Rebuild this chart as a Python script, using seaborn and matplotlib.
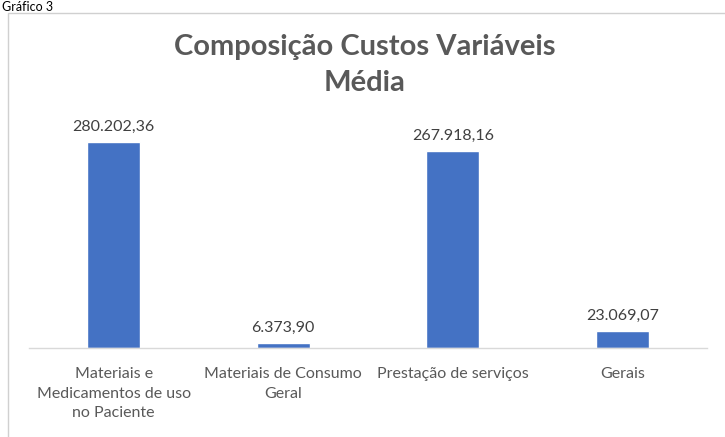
import matplotlib
matplotlib.use("Agg")
import matplotlib.pyplot as plt
import seaborn as sns
import pandas as pd
from matplotlib.patches import Rectangle

# dados do gráfico
categorias = ["Materiais e\nMedicamentos de uso\nno Paciente",
              "Materiais de Consumo\nGeral",
              "Prestação de serviços",
              "Gerais"]
valores = [280202.36, 6373.90, 267918.16, 23069.07]
rotulos = ["280.202,36", "6.373,90", "267.918,16", "23.069,07"]

df = pd.DataFrame({"categoria": categorias, "valor": valores})

sns.set_theme(style="white")
plt.rcParams["font.family"] = ["Lato", "DejaVu Sans"]

fig = plt.figure(figsize=(7.25, 4.37), dpi=100)
W, H = 725, 437

# moldura do gráfico
fig.patches.append(Rectangle((8 / W, -0.1), 1.0, (437 - 13) / H + 0.1,
                             transform=fig.transFigure, fill=False,
                             edgecolor="#d0d0d0", linewidth=1.0))
fig.text(2 / W, 1 - 11 / H, "Gráfico 3", fontsize=9, color="#000000",
         va="baseline", ha="left")

ax = fig.add_axes([29 / W, (H - 348) / H, (707 - 29) / W, 220.5 / H])
sns.barplot(data=df, x="categoria", y="valor", color="#4472C4",
            width=0.31, saturation=1, ax=ax)

ax.set_xlim(-0.5, 3.5)
ax.set_ylim(0, 300000)
ax.set_yticks([])
ax.set_xlabel("")
ax.set_ylabel("")
for s in ["top", "right", "left"]:
    ax.spines[s].set_visible(False)
ax.spines["bottom"].set_color("#d9d9d9")
ax.spines["bottom"].set_linewidth(1.0)
ax.tick_params(axis="x", length=0, pad=14, labelsize=11.5, labelcolor="#595959")
for lbl in ax.get_xticklabels():
    lbl.set_linespacing(1.5)

for i, (v, r) in enumerate(zip(valores, rotulos)):
    ax.annotate(r, (i, v), xytext=(0, 6), textcoords="offset points",
                ha="center", va="bottom", fontsize=11.5, color="#404040",
                annotation_clip=False)

fig.text(365 / W, 1 - 65 / H, "Composição Custos Variáveis\nMédia",
         ha="center", va="center", fontsize=21, fontweight="bold",
         color="#595959", linespacing=1.5)

fig.savefig("out.png", dpi=100)
